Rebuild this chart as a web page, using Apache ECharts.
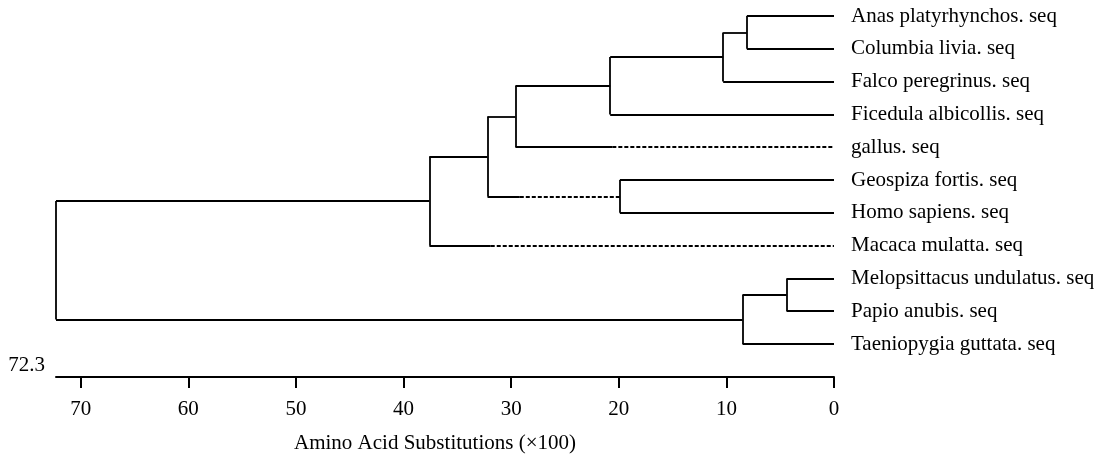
<!DOCTYPE html>
<html>
<head>
<meta charset="utf-8">
<script src="https://cdn.jsdelivr.net/npm/echarts@6/dist/echarts.min.js"></script>
<style>
  html, body { margin: 0; padding: 0; background: #ffffff; }
  #chart { width: 1102px; height: 454px; }
</style>
</head>
<body>
<div id="chart"></div>
<script>
// ---- data ----
const leafNames = [
  'Anas platyrhynchos. seq',
  'Columbia livia. seq',
  'Falco peregrinus. seq',
  'Ficedula albicollis. seq',
  'gallus. seq',
  'Geospiza fortis. seq',
  'Homo sapiens. seq',
  'Macaca mulatta. seq',
  'Melopsittacus undulatus. seq',
  'Papio anubis. seq',
  'Taeniopygia guttata. seq'
];
// internal nodes N0..N9: height (amino acid substitutions x100) and children
const nodeHeights = [8.1, 10.3, 20.8, 29.6, 19.9, 32.2, 37.6, 4.4, 8.5, 72.3];
const nodeChildren = [
  ['L0', 'L1'], ['N0', 'L2'], ['N1', 'L3'], ['N2', 'L4'], ['L5', 'L6'],
  ['N3', 'N4'], ['N5', 'L7'], ['L8', 'L9'], ['N7', 'L10'], ['N6', 'N8']
];
// branches drawn partly dashed, and where the dashed part begins
const dashedBranches = ['L4', 'N4', 'L7'];
const dashStarts = [20.6, 29.2, 31.9];
const tickValues = [0, 10, 20, 30, 40, 50, 60, 70];
const axisMax = 72.3;
const axisTitle = 'Amino Acid Substitutions (\u00d7100)';

// ---- build tree segments ----
function height(id) {
  return id[0] === 'L' ? 0 : nodeHeights[+id.slice(1)];
}
const yCache = {};
function ypos(id) {
  if (id in yCache) return yCache[id];
  let v;
  if (id[0] === 'L') v = +id.slice(1);
  else {
    const ch = nodeChildren[+id.slice(1)];
    v = (ypos(ch[0]) + ypos(ch[1])) / 2;
  }
  yCache[id] = v;
  return v;
}
const segs = [];
nodeChildren.forEach((ch, i) => {
  const h = nodeHeights[i];
  segs.push({ coords: [[h, ypos(ch[0])], [h, ypos(ch[1])]] });
  ch.forEach(c => {
    const y = ypos(c);
    const di = dashedBranches.indexOf(c);
    if (di >= 0) {
      segs.push({ coords: [[h, y], [dashStarts[di], y]] });
      segs.push({ coords: [[dashStarts[di], y], [height(c), y]], lineStyle: { type: [4, 2] } });
    } else {
      segs.push({ coords: [[h, y], [height(c), y]] });
    }
  });
});

const FONT = '"Liberation Serif", "Times New Roman", serif';
const chart = echarts.init(document.getElementById('chart'));
chart.setOption({
  animation: false,
  backgroundColor: '#ffffff',
  grid: { left: 56, right: 268, top: 16, bottom: 110, containLabel: false, outerBoundsMode: 'none' },
  xAxis: {
    type: 'value',
    inverse: true,
    min: 0,
    max: axisMax,
    interval: 10,
    position: 'bottom',
    offset: 33,
    splitLine: { show: false },
    axisLine: { show: true, onZero: false, lineStyle: { color: '#000', width: 2 } },
    axisTick: { show: true, length: 11, customValues: tickValues, lineStyle: { color: '#000', width: 2 } },
    axisLabel: { customValues: tickValues, margin: 22, color: '#000', fontFamily: FONT, fontSize: 21 },
    name: axisTitle,
    nameLocation: 'middle',
    nameGap: 56,
    nameTextStyle: { color: '#000', fontFamily: FONT, fontSize: 21, padding: [0, 20, 0, 0] }
  },
  yAxis: [
    { type: 'value', min: 0, max: leafNames.length - 1, inverse: true, show: false },
    {
      type: 'category', data: leafNames, boundaryGap: false, inverse: true, position: 'right',
      axisLine: { show: false }, axisTick: { show: false }, splitLine: { show: false },
      axisLabel: { margin: 17, color: '#000', fontFamily: FONT, fontSize: 21, align: 'left' }
    }
  ],
  series: [{
    type: 'lines',
    coordinateSystem: 'cartesian2d',
    xAxisIndex: 0,
    yAxisIndex: 0,
    polyline: false,
    silent: true,
    lineStyle: { color: '#000', width: 1.8, opacity: 1, curveness: 0 },
    data: segs
  }]
});

const px = chart.convertToPixel({ xAxisIndex: 0 }, axisMax);
const py = chart.convertToPixel({ yAxisIndex: 0 }, leafNames.length - 1) + 33;
chart.setOption({
  graphic: [{
    type: 'text',
    x: px - 11,
    y: py - 12,
    style: { text: String(axisMax), align: 'right', verticalAlign: 'middle', fill: '#000', font: '21px ' + FONT }
  }]
});
</script>
</body>
</html>
